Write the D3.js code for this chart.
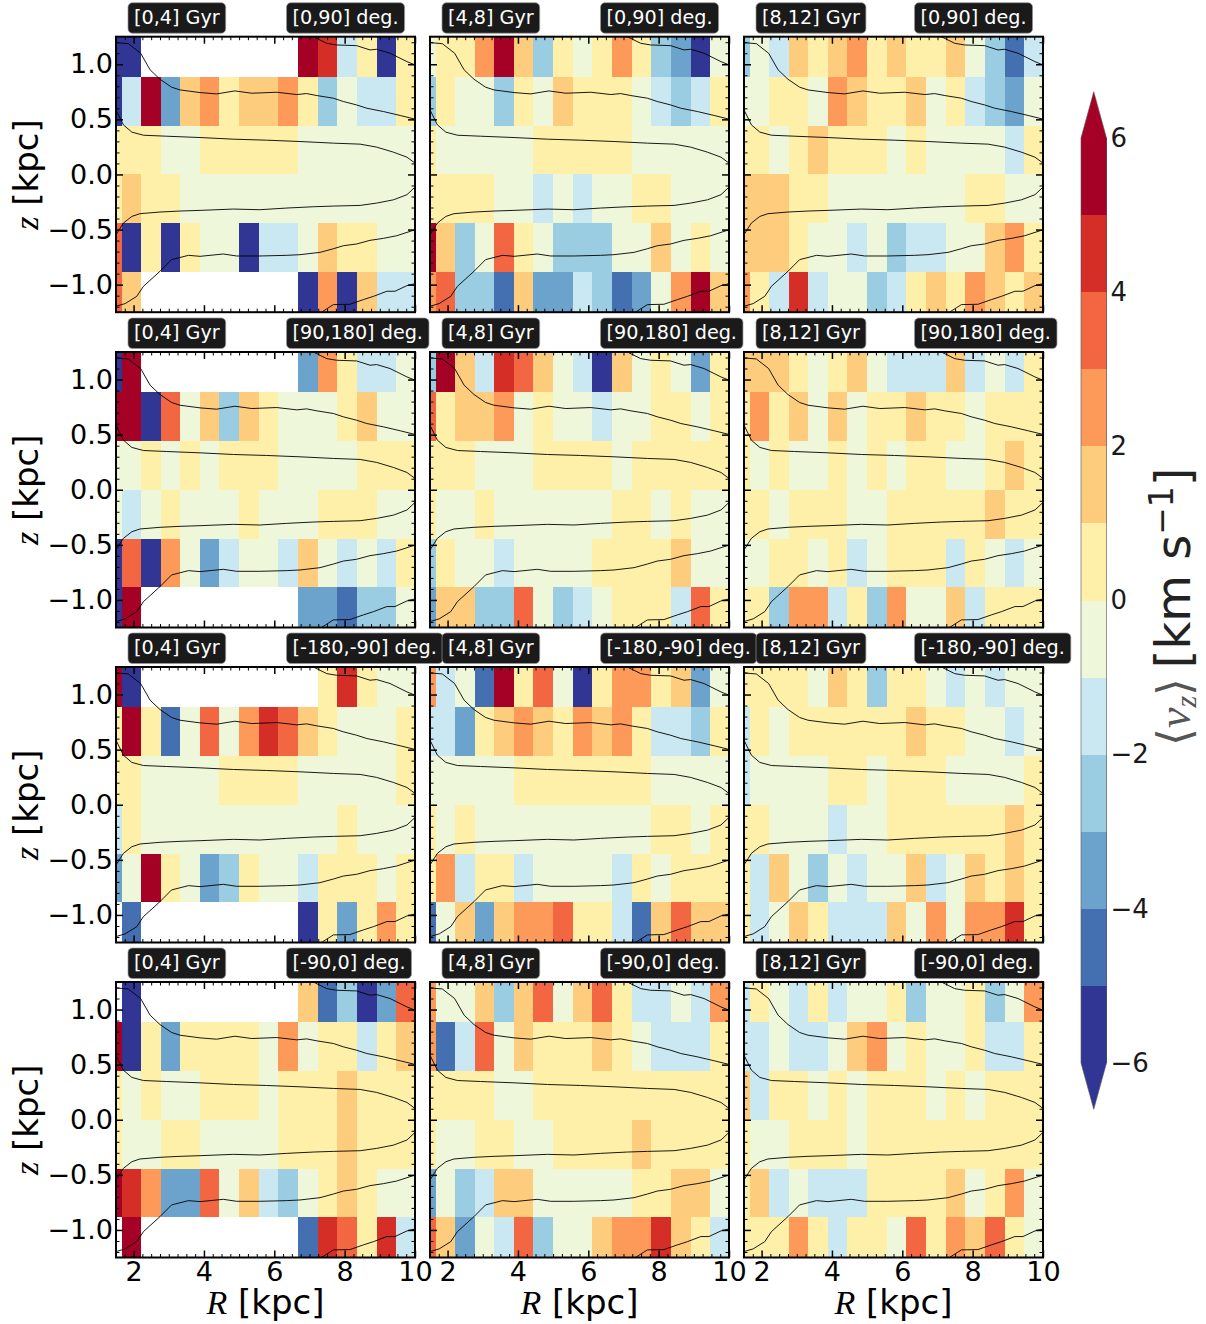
<!DOCTYPE html>
<html><head><meta charset="utf-8">
<script src="https://cdn.jsdelivr.net/npm/d3@7"></script>
<style>html,body{margin:0;padding:0;background:#fff}svg{display:block}text{font-family:"DejaVu Sans",sans-serif}</style>
</head><body><svg id="c" width="1206" height="1324"></svg>
<script>
const n=null;
const ageLabels=['[0,4] Gyr','[4,8] Gyr','[8,12] Gyr'];
const angleLabels=['[0,90] deg.','[90,180] deg.','[-180,-90] deg.','[-90,0] deg.'];
const rEdges=[1.10,1.661,2.211,2.77,3.32,3.879,4.438,4.998,5.557,6.116,6.675,7.235,7.794,8.353,8.912,9.472,10.03];
const zEdges=[1.327,0.885,0.4425,0,-0.4425,-0.885,-1.327];
const levels=[-5,-4,-3,-2,-1,0,1,2,3,4,5];
const palette=['#313695','#4470b2','#6ba3cd','#9bcde2','#cae8f2','#eff7da','#fef0a8','#fdcc7d','#fd9a59','#f26641','#d52e27','#a50026'];
const cbarTicks=[-6,-4,-2,0,2,4,6];
const rMajor=[2,4,6,8,10];
const zMajor=[-1,-0.5,0,0.5,1];
const rMinor=[1.5,1.75,2.25,2.5,2.75,3,3.25,3.5,3.75,4.25,4.5,4.75,5,5.25,5.5,5.75,6.25,6.5,6.75,7,7.25,7.5,7.75,8.25,8.5,8.75,9,9.25,9.5,9.75];
const zMinor=[-1.2,-1.1,-0.9,-0.8,-0.7,-0.6,-0.4,-0.3,-0.2,-0.1,0.1,0.2,0.3,0.4,0.6,0.7,0.8,0.9,1.1,1.2];

const a1=[[-5.5,-5.5,n,n,n,n,n,n,n,n,5.5,4.5,-1.5,.5,-5.5,.5],
[-5.5,-1.5,5.5,-3.5,1.5,2.5,.5,1.5,1.5,2.5,.5,-2.5,-.5,-1.5,-1.5,.5],
[.5,.5,.5,-.5,-.5,.5,.5,.5,.5,.5,-.5,-.5,-.5,-.5,-.5,-.5],
[.5,1.5,.5,.5,-.5,-.5,-.5,-.5,-.5,-.5,-.5,-.5,-.5,-.5,-.5,-.5],
[3.5,-5.5,.5,-5.5,.5,-.5,-.5,-5.5,-1.5,-1.5,-.5,1.5,.5,.5,-.5,-.5],
[3.5,1.5,n,n,n,n,n,n,n,n,-5.5,2.5,-5.5,1.5,-1.5,-1.5]];
const b1=[[-.5,.5,.5,2.5,5.5,1.5,-2.5,.5,-.5,.5,2.5,.5,-2.5,-3.5,-5.5,-.5],
[-2.5,.5,-.5,-.5,-2.5,.5,-.5,1.5,.5,.5,.5,-.5,-1.5,-2.5,-1.5,.5],
[.5,-.5,-.5,-.5,-.5,-.5,.5,.5,.5,.5,.5,-.5,-.5,-.5,-.5,-.5],
[.5,.5,.5,.5,-.5,-.5,-1.5,-.5,-1.5,-.5,-.5,.5,.5,-.5,-.5,-.5],
[5.5,1.5,-2.5,-.5,3.5,.5,-.5,-2.5,-2.5,-2.5,-.5,-.5,1.5,-.5,.5,-.5],
[2.5,3.5,-2.5,-2.5,-4.5,1.5,-3.5,-3.5,-1.5,-2.5,-4.5,-3.5,-.5,2.5,5.5,1.5]];
const c1=[[-2.5,-.5,-1.5,1.5,.5,1.5,2.5,.5,1.5,.5,.5,1.5,-.5,-2.5,-4.5,-1.5],
[-.5,-.5,.5,.5,-.5,2.5,1.5,.5,.5,1.5,-.5,.5,-1.5,-2.5,-3.5,-.5],
[.5,.5,-.5,.5,1.5,.5,.5,.5,-.5,.5,-.5,-.5,-.5,-.5,-1.5,.5],
[1.5,1.5,1.5,.5,.5,-.5,-.5,-.5,-.5,-.5,-.5,-.5,.5,.5,-.5,-.5],
[1.5,1.5,1.5,.5,-.5,-.5,-1.5,-.5,-2.5,-1.5,-1.5,-.5,-.5,1.5,2.5,.5],
[2.5,.5,-1.5,4.5,-1.5,-.5,-.5,-2.5,-1.5,.5,1.5,.5,2.5,1.5,.5,1.5]];
const a2=[[-5.5,5.5,n,n,n,n,n,n,n,n,-3.5,2.5,.5,-1.5,-1.5,-.5],
[5.5,5.5,-5.5,3.5,-.5,1.5,-2.5,1.5,.5,-.5,-.5,-.5,.5,1.5,-.5,-.5],
[-.5,-.5,.5,-.5,.5,-.5,.5,.5,.5,-.5,-.5,-.5,-.5,.5,.5,.5],
[-.5,-1.5,-.5,.5,-.5,-.5,-.5,.5,-.5,-.5,-.5,.5,.5,.5,-.5,-.5],
[-5.5,3.5,-5.5,2.5,-.5,-3.5,-1.5,-.5,-.5,-1.5,1.5,-.5,-1.5,-.5,-1.5,.5],
[-5.5,5.5,n,n,n,n,n,n,n,n,-3.5,-3.5,-4.5,-2.5,-2.5,-.5]];
const b2=[[-2.5,5.5,1.5,-1.5,4.5,3.5,1.5,-.5,-1.5,-5.5,1.5,-.5,.5,-.5,-3.5,.5],
[3.5,.5,1.5,1.5,2.5,-.5,.5,-.5,-.5,-1.5,-.5,-.5,.5,.5,-.5,.5],
[.5,.5,.5,-.5,-.5,-.5,.5,.5,.5,.5,-.5,.5,.5,.5,.5,.5],
[.5,-.5,-.5,.5,-.5,-.5,-.5,-.5,-.5,-.5,.5,.5,-.5,.5,-.5,-.5],
[-2.5,.5,-.5,-.5,-1.5,-.5,-.5,-.5,-.5,.5,.5,.5,.5,1.5,-.5,-.5],
[-3.5,1.5,1.5,-2.5,-2.5,3.5,-.5,-2.5,-1.5,-.5,.5,.5,.5,-1.5,3.5,.5]];
const c2=[[1.5,1.5,1.5,.5,-.5,.5,1.5,-.5,-1.5,-1.5,-1.5,1.5,-1.5,-.5,-1.5,.5],
[.5,2.5,.5,1.5,-.5,1.5,-.5,.5,.5,1.5,.5,.5,-.5,.5,.5,.5],
[.5,-.5,.5,-.5,-.5,.5,-.5,.5,-.5,.5,.5,-.5,-.5,.5,1.5,.5],
[.5,.5,-.5,.5,.5,.5,-.5,-.5,.5,.5,.5,.5,.5,1.5,.5,.5],
[-.5,-.5,.5,.5,-.5,.5,-1.5,-.5,.5,.5,.5,-1.5,.5,-.5,-1.5,-.5],
[.5,.5,-2.5,2.5,2.5,-1.5,.5,-2.5,2.5,-.5,-.5,1.5,-1.5,.5,.5,.5]];
const a3=[[5.5,-5.5,n,n,n,n,n,n,n,n,n,.5,4.5,.5,-.5,-.5],
[.5,5.5,.5,-4.5,-.5,3.5,-.5,2.5,4.5,3.5,1.5,.5,-.5,-.5,-.5,.5],
[.5,.5,-.5,-.5,-.5,-.5,.5,.5,.5,.5,-.5,-.5,-.5,-.5,-.5,.5],
[-1.5,.5,-.5,-.5,-.5,-.5,-.5,-.5,-.5,-.5,-.5,-.5,.5,-.5,-.5,-.5],
[-3.5,-.5,5.5,.5,-.5,-3.5,-2.5,.5,-.5,-.5,-1.5,.5,.5,.5,-.5,.5],
[n,-4.5,n,n,n,n,n,n,n,n,-5.5,.5,-3.5,.5,2.5,.5]];
const b3=[[2.5,-1.5,-.5,-4.5,5.5,.5,3.5,-.5,-5.5,.5,2.5,2.5,.5,1.5,-3.5,-.5],
[-1.5,-1.5,-3.5,.5,1.5,2.5,1.5,.5,2.5,1.5,2.5,.5,-1.5,-1.5,-2.5,.5],
[-.5,-.5,-.5,-.5,-.5,.5,.5,.5,.5,.5,.5,.5,-.5,-.5,-.5,-.5],
[.5,-.5,.5,-.5,-.5,-.5,-.5,-.5,-.5,-.5,-.5,-.5,.5,.5,-.5,.5],
[.5,2.5,-1.5,.5,.5,-1.5,-.5,-.5,-.5,-.5,-1.5,.5,-.5,.5,.5,.5],
[-4.5,-.5,1.5,-3.5,1.5,2.5,2.5,3.5,.5,.5,-1.5,-4.5,1.5,3.5,1.5,1.5]];
const c3=[[.5,.5,.5,.5,-.5,1.5,.5,-2.5,.5,.5,-.5,-1.5,-.5,-1.5,-.5,-.5],
[-1.5,.5,-.5,.5,.5,.5,.5,.5,.5,1.5,.5,.5,-.5,-.5,-1.5,-.5],
[-1.5,-.5,-.5,-.5,-.5,.5,.5,-.5,.5,.5,.5,-.5,-.5,-.5,-.5,.5],
[.5,.5,-.5,-.5,-.5,-1.5,-.5,-.5,.5,.5,.5,.5,.5,.5,1.5,.5],
[.5,-1.5,1.5,-.5,-2.5,-.5,-1.5,-.5,-.5,1.5,-1.5,-.5,1.5,.5,1.5,.5],
[.5,-1.5,-.5,1.5,.5,-1.5,-1.5,-1.5,1.5,-.5,2.5,-.5,2.5,2.5,4.5,.5]];
const a4=[[n,-5.5,n,n,n,n,n,n,n,n,1.5,-4.5,-2.5,-5.5,-3.5,3.5],
[5.5,-5.5,.5,-3.5,.5,.5,.5,.5,-.5,2.5,-.5,.5,.5,-1.5,.5,1.5],
[.5,-.5,.5,-.5,-.5,.5,.5,.5,-.5,.5,.5,.5,1.5,.5,.5,.5],
[.5,-.5,-.5,.5,.5,-.5,-.5,-.5,-.5,.5,.5,.5,1.5,.5,.5,.5],
[5.5,4.5,2.5,-3.5,-3.5,3.5,-.5,1.5,-1.5,-2.5,-.5,.5,1.5,.5,-.5,-.5],
[n,5.5,n,n,n,n,n,n,n,n,-4.5,4.5,3.5,.5,4.5,-1.5]];
const b4=[[2.5,-.5,-.5,1.5,-2.5,1.5,3.5,-.5,1.5,3.5,.5,-1.5,-1.5,-.5,-1.5,2.5],
[2.5,-4.5,-1.5,3.5,-.5,1.5,.5,.5,.5,1.5,.5,-.5,-1.5,-1.5,-1.5,.5],
[.5,.5,.5,.5,-.5,-.5,.5,.5,.5,.5,.5,.5,.5,.5,.5,.5],
[.5,-.5,-.5,.5,.5,-.5,-.5,.5,.5,.5,.5,1.5,.5,.5,.5,.5],
[-3.5,-.5,-2.5,-1.5,1.5,1.5,-.5,-.5,-.5,-.5,-.5,.5,.5,1.5,1.5,-.5],
[3.5,1.5,-3.5,-.5,-1.5,3.5,-2.5,-.5,-.5,1.5,2.5,2.5,4.5,1.5,.5,-1.5]];
const c4=[[-1.5,.5,-.5,-1.5,.5,-1.5,-.5,-.5,.5,-2.5,-.5,-.5,.5,-2.5,-.5,2.5],
[-1.5,-1.5,-.5,-1.5,-1.5,-.5,1.5,2.5,-.5,.5,-.5,-.5,.5,-1.5,-1.5,.5],
[1.5,-1.5,.5,.5,-.5,.5,-.5,.5,.5,.5,-.5,.5,-.5,.5,.5,.5],
[.5,-.5,-.5,.5,.5,.5,-.5,.5,.5,.5,.5,.5,.5,.5,.5,.5],
[.5,1.5,-1.5,-.5,-1.5,-1.5,-1.5,.5,.5,.5,.5,1.5,-.5,.5,2.5,-.5],
[.5,.5,.5,2.5,.5,-1.5,.5,.5,-.5,3.5,.5,2.5,1.5,3.5,.5,-.5]];

const lineR1=[1.5,1.85,2.2,2.47,2.75,3.08,3.32,3.89,4.36,4.88,5.36,6.07,6.64,6.92,7.21,7.68,7.96,8.34,8.63,9.1,9.58,10];
const lineZ1=[1.196,1.187,1.1,.949,.864,.792,.767,.743,.731,.758,.737,.746,.725,.734,.716,.692,.662,.631,.601,.571,.535,.502];
const lineR2=[1.5,1.71,1.95,2.28,2.94,3.89,4.84,5.78,6.73,7.68,8.44,8.91,9.39,9.77,10];
const lineZ2=[.586,.45,.384,.356,.347,.335,.32,.311,.299,.284,.275,.248,.202,.157,.103];
const lineR3=[6.9,7.11,7.3,7.49,7.77,8.34,8.72,8.91,9.29,9.77,10];
const lineZ3=[1.255,1.25,1.22,1.19,1.175,1.169,1.13,1.136,1.1,1.024,.994];
const lineR4=[1.5,1.71,1.95,2.18,2.75,3.32,3.89,4.84,5.59,6.35,7.11,7.68,8.44,8.91,9.39,9.77,10];
const lineZ4=[-.547,-.441,-.381,-.356,-.341,-.332,-.326,-.314,-.32,-.305,-.293,-.287,-.281,-.26,-.23,-.184,-.115];
const lineR5=[1.5,1.76,2.09,2.28,2.75,3.08,3.56,3.89,4.55,4.93,5.59,6.35,6.73,7.3,7.68,7.96,8.34,8.72,9.1,9.48,10];
const lineZ5=[-1.196,-1.172,-1.106,-1.015,-.879,-.773,-.734,-.743,-.722,-.74,-.74,-.734,-.728,-.707,-.674,-.647,-.631,-.598,-.58,-.556,-.502];
const lineR6=[7.1,7.35,7.68,8.15,8.53,8.82,9.2,9.43,9.77,10];
const lineZ6=[-1.29,-1.248,-1.181,-1.178,-1.136,-1.106,-1.06,-1.06,-1.009,-.991];

const panels=[[a1,b1,c1],[a2,b2,c2],[a3,b3,c3],[a4,b4,c4]];
const contourLines=[[lineR1,lineZ1],[lineR2,lineZ2],[lineR3,lineZ3],[lineR4,lineZ4],[lineR5,lineZ5],[lineR6,lineZ6]];

const colX=[116,430,744], rowY=[36.7,352,667,982], W=299, H=275.5;
const svg=d3.select('#c');
const x=d3.scaleLinear().domain([1.5,10]).range([0,W]);
const y=d3.scaleLinear().domain([-1.25,1.25]).range([H,0]);
const color=d3.scaleThreshold().domain(levels).range(palette);
const line=d3.line().x(d=>x(d[0])).y(d=>y(d[1]));
const defs=svg.append('defs');
defs.append('clipPath').attr('id','pc').append('rect').attr('width',W).attr('height',H);

function styleAxis(g,major){
  g.select('.domain').remove();
  g.selectAll('line').attr('stroke','#000').attr('stroke-width',major?1.5:1);
  g.selectAll('text').attr('font-size',27).attr('fill','#000').attr('font-family','"DejaVu Sans"');
}
function box(g,tx,txt){
  const b=g.append('g');
  const r=b.append('rect').attr('y',-34).attr('height',30.5).attr('rx',4.5).attr('fill','#1a1a1a').attr('stroke','#9a9a9a').attr('stroke-width',.7);
  const t=b.append('text').attr('x',tx).attr('y',-13.2).attr('font-size',19.2).attr('fill','#fff').text(txt);
  const w=t.node().getComputedTextLength();
  r.attr('x',tx-6).attr('width',w+12);
}
rowY.forEach((py,ri)=>colX.forEach((px,ci)=>{
  const g=svg.append('g').attr('transform',`translate(${px},${py})`);
  const cells=[];
  panels[ri][ci].forEach((row,j)=>row.forEach((v,i)=>{ if(v!==null) cells.push({v,i,j}); }));
  g.append('g').attr('clip-path','url(#pc)').selectAll('rect').data(cells).join('rect')
    .attr('x',d=>x(rEdges[d.i])).attr('width',d=>x(rEdges[d.i+1])-x(rEdges[d.i]))
    .attr('y',d=>y(zEdges[d.j])).attr('height',d=>y(zEdges[d.j+1])-y(zEdges[d.j]))
    .attr('fill',d=>color(d.v)).attr('shape-rendering','crispEdges');
  g.append('g').attr('clip-path','url(#pc)').selectAll('path').data(contourLines).join('path')
    .attr('d',d=>line(d[0].map((r,k)=>[r,d[1][k]]))).attr('fill','none').attr('stroke','#000').attr('stroke-width',1).attr('stroke-opacity',.9);
  const blank=()=>'';
  const xFmt=ri===3?d3.format('d'):blank, yFmt=ci===0?d3.format('.1f'):blank;
  [[d3.axisBottom,H,xFmt,4],[d3.axisTop,0,blank,4]].forEach(([ax,off,f,p])=>{
    g.append('g').attr('transform',`translate(0,${off})`).call(ax(x).tickValues(rMajor).tickSize(-7).tickPadding(p).tickFormat(f)).call(s=>styleAxis(s,true));
    g.append('g').attr('transform',`translate(0,${off})`).call(ax(x).tickValues(rMinor).tickSize(-3.5).tickFormat(blank)).call(s=>styleAxis(s,false));
  });
  [[d3.axisLeft,0,yFmt,3],[d3.axisRight,W,blank,3]].forEach(([ax,off,f,p])=>{
    g.append('g').attr('transform',`translate(${off},0)`).call(ax(y).tickValues(zMajor).tickSize(-7).tickPadding(p).tickFormat(f)).call(s=>styleAxis(s,true));
    g.append('g').attr('transform',`translate(${off},0)`).call(ax(y).tickValues(zMinor).tickSize(-3.5).tickFormat(blank)).call(s=>styleAxis(s,false));
  });
  g.append('rect').attr('width',W).attr('height',H).attr('fill','none').attr('stroke','#000').attr('stroke-width',2);
  box(g,18,ageLabels[ci]);
  box(g,176.5,angleLabels[ri]);
  if(ci===0){
    const t=svg.append('text').attr('transform',`translate(38,${py+H/2}) rotate(-90)`).attr('text-anchor','middle').attr('font-size',34);
    t.append('tspan').attr('font-family','"Liberation Serif"').attr('font-style','italic').text('z');
    t.append('tspan').text(' [kpc]');
  }
  if(ri===3){
    const t=svg.append('text').attr('x',px+W/2).attr('y',1314).attr('text-anchor','middle').attr('font-size',34);
    t.append('tspan').attr('font-family','"Liberation Serif"').attr('font-style','italic').text('R');
    t.append('tspan').text(' [kpc]');
  }
}));

// colour bar
const cx0=1081,cx1=1106.5,cxm=(cx0+cx1)/2;
const yc=d3.scaleLinear().domain([-6,6]).range([1063,138]);
const cb=svg.append('g');
const bands=palette.map((c,i)=>({c,lo:-6+i,hi:-5+i}));
cb.selectAll('rect').data(bands).join('rect').attr('x',cx0).attr('width',cx1-cx0)
  .attr('y',d=>yc(d.hi)).attr('height',d=>yc(d.lo)-yc(d.hi)).attr('fill',d=>d.c).attr('shape-rendering','crispEdges');
const ext=0.6;
cb.append('path').attr('d',`M${cx0},${yc(6)}L${cxm},${yc(6+ext)}L${cx1},${yc(6)}Z`).attr('fill',palette[11]);
cb.append('path').attr('d',`M${cx0},${yc(-6)}L${cxm},${yc(-6-ext)}L${cx1},${yc(-6)}Z`).attr('fill',palette[0]);
cb.append('path').attr('d',`M${cx0},${yc(6)}L${cxm},${yc(6+ext)}L${cx1},${yc(6)}V${yc(-6)}L${cxm},${yc(-6-ext)}L${cx0},${yc(-6)}Z`).attr('fill','none').attr('stroke','#555').attr('stroke-width',.6);
const ca=svg.append('g').attr('transform',`translate(${cx1},0)`).call(d3.axisRight(yc).tickValues(cbarTicks).tickSize(0).tickPadding(4).tickFormat(d3.format('d')));
ca.select('.domain').remove();
ca.selectAll('text').attr('font-size',26).attr('fill','#1a1a1a').attr('font-family','"DejaVu Sans"');
const ct=svg.append('text').attr('transform','translate(1190,746) rotate(-90)').attr('font-size',48).attr('fill','#222');
const m=ct.append('tspan').attr('font-family','"Liberation Serif"').attr('fill','#555');
m.append('tspan').attr('font-size',46).text('\u27e8');
m.append('tspan').attr('font-style','italic').attr('font-size',46).text('v');
m.append('tspan').attr('font-style','italic').attr('font-size',30).attr('dy',6).text('z');
m.append('tspan').attr('font-size',46).attr('dy',-6).text('\u27e9');
ct.append('tspan').attr('font-size',30).text(' ');
ct.append('tspan').text('[km s');
ct.append('tspan').attr('font-size',33).attr('dy',-17).text('\u22121');
ct.append('tspan').attr('dy',17).text(']');
</script></body></html>
